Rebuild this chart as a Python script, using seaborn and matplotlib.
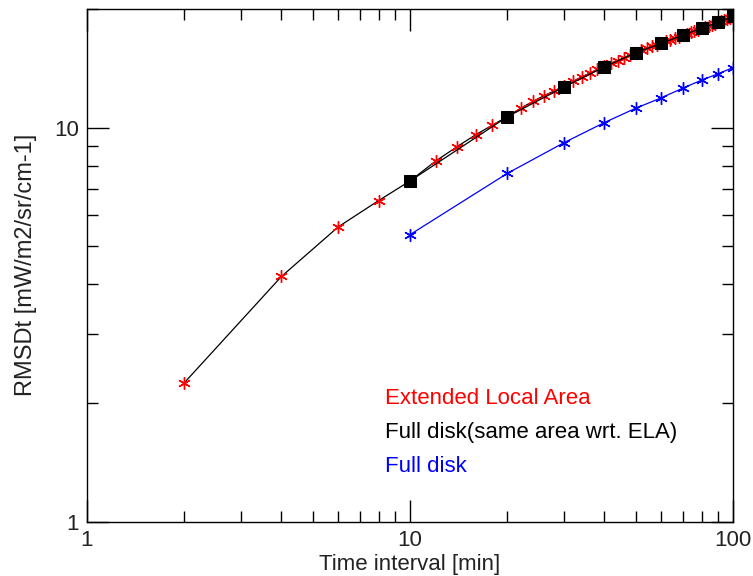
import matplotlib
matplotlib.use("Agg")
import matplotlib.pyplot as plt
import seaborn as sns
import numpy as np
import pandas as pd
from matplotlib.ticker import LogLocator, FixedLocator, NullFormatter, FixedFormatter

# ---- data ----
ela_x = [2, 4, 6, 8, 10, 12, 14, 16, 18, 20, 22, 24, 26, 28, 30, 32, 34, 36, 38, 40,
         42, 44, 46, 48, 50, 52, 54, 56, 58, 60, 62, 64, 66, 68, 70, 72, 74, 76, 78, 80,
         82, 84, 86, 88, 90, 92, 94, 96, 98, 100]
ela_y = [2.25, 4.19, 5.60, 6.53, 7.32, 8.22, 8.95, 9.60, 10.15, 10.65, 11.2, 11.65, 12.05, 12.4,
         12.75, 13.1, 13.45, 13.75, 14.05, 14.3, 14.55, 14.8, 15.05, 15.3, 15.5, 15.7, 15.9,
         16.1, 16.25, 16.4, 16.55, 16.7, 16.85, 17.0, 17.15, 17.3, 17.45, 17.6, 17.7, 17.85,
         18.0, 18.1, 18.25, 18.35, 18.5, 18.6, 18.75, 18.85, 18.95, 19.1]

fds_x = [10, 20, 30, 40, 50, 60, 70, 80, 90, 100]
fds_y = [7.32, 10.65, 12.68, 14.26, 15.49, 16.36, 17.17, 17.88, 18.49, 19.15]

fd_x = [10, 20, 30, 40, 50, 60, 70, 80, 90, 100]
fd_y = [5.35, 7.65, 9.16, 10.3, 11.2, 11.9, 12.6, 13.2, 13.7, 14.2]

labels = ["Extended Local Area", "Full disk(same area wrt. ELA)", "Full disk"]
label_colors = ["red", "black", "blue"]

x_ticks = [1, 10, 100]
y_ticks = [1, 10]

# ---- plot ----
sns.set_style("ticks")
plt.rcParams["font.family"] = ["Liberation Sans", "DejaVu Sans"]

fig = plt.figure(figsize=(7.53, 5.76), dpi=100)
ax = fig.add_axes([0.1155, 0.0943, 0.8579, 0.8901])

ast = (6, 2, 0)
sns.lineplot(x=ela_x, y=ela_y, ax=ax, color="black", lw=0.9, estimator=None,
             marker=ast, markersize=9, markeredgecolor="red", markerfacecolor="red",
             markeredgewidth=1.0, sort=False)
sns.lineplot(x=fds_x, y=fds_y, ax=ax, color="black", lw=0.9, estimator=None,
             marker="s", markersize=8.5, markeredgecolor="black", markerfacecolor="black",
             sort=False)
sns.lineplot(x=fd_x, y=fd_y, ax=ax, color="blue", lw=0.9, estimator=None,
             marker=ast, markersize=9, markeredgecolor="blue", markerfacecolor="blue",
             markeredgewidth=1.0, sort=False)

ax.set_xscale("log")
ax.set_yscale("log")
ax.set_xlim(1, 100)
ax.set_ylim(1, 20)

ax.xaxis.set_major_locator(FixedLocator(x_ticks))
ax.xaxis.set_major_formatter(FixedFormatter([str(v) for v in x_ticks]))
ax.yaxis.set_major_locator(FixedLocator(y_ticks))
ax.yaxis.set_major_formatter(FixedFormatter([str(v) for v in y_ticks]))
ax.xaxis.set_minor_locator(LogLocator(base=10, subs=np.arange(2, 10)))
ax.yaxis.set_minor_locator(LogLocator(base=10, subs=np.arange(2, 10)))
ax.xaxis.set_minor_formatter(NullFormatter())
ax.yaxis.set_minor_formatter(NullFormatter())

ax.tick_params(which="major", direction="in", length=16, width=1.0, top=True, right=True,
               labelsize=16, pad=6, color="black", labelcolor="#222222")
ax.tick_params(which="minor", direction="in", length=8, width=1.0, top=True, right=True,
               color="black")
for s in ax.spines.values():
    s.set_linewidth(1.0)
    s.set_color("black")

ax.set_xlabel("Time interval [min]", fontsize=16, labelpad=2, color="#222222")
ax.set_ylabel("RMSDt [mW/m2/sr/cm-1]", fontsize=17, labelpad=12, color="#222222")

for i, (lab, col) in enumerate(zip(labels, label_colors)):
    ax.text(0.462, 0.241 - i * 0.0663, lab, color=col, fontsize=16,
            transform=ax.transAxes, va="center", ha="left")

fig.savefig("out.png", dpi=100)
